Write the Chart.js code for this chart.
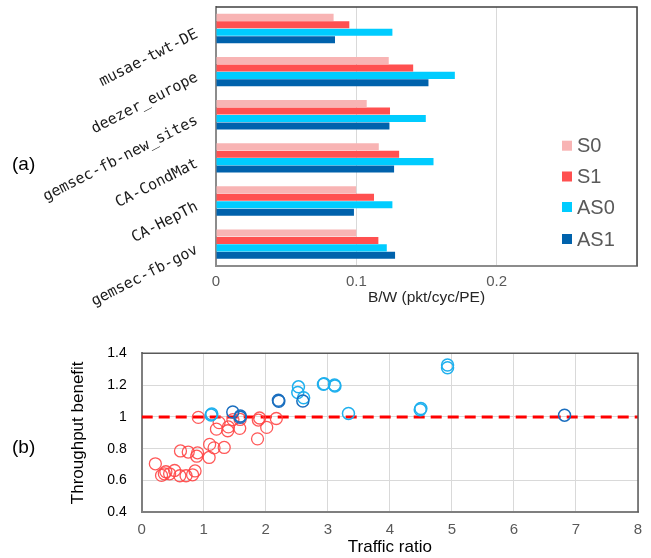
<!DOCTYPE html>
<html><head><meta charset="utf-8">
<script src="https://cdn.jsdelivr.net/npm/chart.js@4.4.1/dist/chart.umd.min.js"></script>
<style>
html,body{margin:0;padding:0;background:#fff;}
body{width:651px;height:558px;position:relative;overflow:hidden;}
canvas{position:absolute;left:0;}
#ca{top:0;}
#cb{top:320px;}
.lab{position:absolute;font-family:"Liberation Sans",Arial,sans-serif;font-size:19px;color:#000;line-height:1;}
</style></head>
<body>
<canvas id="ca" width="651" height="320" style="width:651px;height:320px"></canvas>
<canvas id="cb" width="651" height="238" style="width:651px;height:238px"></canvas>
<div class="lab" style="left:12px;top:154px">(a)</div>
<div class="lab" style="left:12px;top:437px">(b)</div>
<script>
// ---------- (a) bandwidth per dataset ----------
const categories = ['musae-twt-DE','deezer_europe','gemsec-fb-new_sites','CA-CondMat','CA-HepTh','gemsec-fb-gov'];
const seriesNames = ['S0','S1','AS0','AS1'];
const S0  = [0.0838, 0.1231, 0.1074, 0.1160, 0.0998, 0.1000];
const S1  = [0.0950, 0.1405, 0.1240, 0.1305, 0.1126, 0.1157];
const AS0 = [0.1257, 0.1702, 0.1495, 0.1550, 0.1257, 0.1217];
const AS1 = [0.0848, 0.1514, 0.1236, 0.1269, 0.0983, 0.1276];
const bwTickLabels = ['0','0.1','0.2'];

// ---------- (b) throughput benefit vs traffic ratio ----------
const redX = [0.22,0.32,0.365,0.39,0.45,0.53,0.615,0.625,0.715,0.75,0.82,0.86,0.887,0.90,0.913,1.087,1.095,1.166,1.205,1.248,1.33,1.387,1.397,1.47,1.58,1.586,1.867,1.88,1.90,2.015,2.17];
const redY = [0.705,0.632,0.642,0.655,0.642,0.663,0.630,0.786,0.630,0.779,0.636,0.660,0.753,0.774,0.997,0.745,0.827,0.805,0.923,0.964,0.808,0.913,0.937,0.983,0.928,0.984,0.862,0.980,0.993,0.934,0.990];
const lightX = [1.118,1.13,2.527,2.516,2.61,2.93,2.94,3.108,3.115,3.333,4.49,4.50,4.93,4.93];
const lightY = [1.012,1.018,1.189,1.153,1.120,1.205,1.208,1.200,1.195,1.022,1.045,1.053,1.326,1.309];
const darkX = [1.468,1.586,1.59,2.204,2.21,2.597,6.816];
const darkY = [1.031,0.998,1.006,1.105,1.098,1.100,1.011];
const refX = [0, 8];
const refY = [1, 1];
const benefitTickLabels = ['0.4','0.6','0.8','1','1.2','1.4'];

const SANS = '"Liberation Sans", Arial, sans-serif';
const colors = ['#F8B4B4','#FF5050','#00CCFF','#0062AC'];

const frameA = {
  id:'frameA',
  afterDraw(chart){
    const {ctx, chartArea:a} = chart;
    ctx.save();
    ctx.strokeStyle = '#404040'; ctx.lineWidth = 1.5;
    ctx.beginPath();
    ctx.moveTo(a.left, a.top); ctx.lineTo(a.right, a.top); ctx.lineTo(a.right, a.bottom);
    ctx.stroke();
    // legend
    ctx.font = '20px ' + SANS;
    ctx.textBaseline = 'middle';
    ctx.textAlign = 'left';
    const ys = [145.7, 176.5, 207, 239];
    chart.data.datasets.forEach((ds, i) => {
      ctx.fillStyle = ds.backgroundColor;
      ctx.fillRect(562, ys[i] - 5, 10, 10);
      ctx.fillStyle = '#595959';
      ctx.fillText(ds.label, 577, ys[i] + 1);
    });
    ctx.restore();
  }
};

new Chart(document.getElementById('ca'), {
  type: 'bar',
  data: {
    labels: categories,
    datasets: [S0, S1, AS0, AS1].map((d, i) => ({
      label: seriesNames[i], data: d, backgroundColor: colors[i],
      categoryPercentage: 0.69, barPercentage: 0.95
    }))
  },
  options: {
    indexAxis: 'y', responsive: false, animation: false,
    layout: { padding: { top: 7, right: 14, left: 0, bottom: 0 } },
    plugins: { legend: { display: false }, tooltip: { enabled: false } },
    scales: {
      x: {
        min: 0, max: 0.3,
        ticks: { stepSize: 0.1, color: '#595959', font: { family: SANS, size: 15 }, padding: 7,
          callback: (v) => { const k = Math.round(v * 10); return k < bwTickLabels.length ? bwTickLabels[k] : ''; } },
        grid: { color: '#d9d9d9', drawTicks: false, lineWidth: 1 },
        border: { color: '#8c8c8c', width: 2 },
        title: { display: true, text: 'B/W (pkt/cyc/PE)', color: '#262626', font: { family: SANS, size: 15.5 }, padding: { top: 0, bottom: 13 } },
        afterFit: (s) => { s.height = 320 - 265.7; s.paddingLeft = 0; s.paddingRight = 0; }
      },
      y: {
        ticks: { color: '#1a1a1a', font: { family: '"DejaVu Sans Mono", monospace', size: 15 }, minRotation: 27, maxRotation: 27, padding: 19, labelOffset: 5, autoSkip: false },
        grid: { display: false, drawTicks: false },
        border: { color: '#8c8c8c', width: 2 },
        afterFit: (s) => { s.width = 216; s.paddingTop = 0; s.paddingBottom = 0; }
      }
    }
  },
  plugins: [frameA]
});

const frameB = {
  id:'frameB',
  afterDraw(chart){
    const {ctx, chartArea:a} = chart;
    ctx.save();
    ctx.strokeStyle = '#595959'; ctx.lineWidth = 1.5;
    ctx.beginPath();
    ctx.moveTo(a.left, a.top); ctx.lineTo(a.right, a.top); ctx.lineTo(a.right, a.bottom);
    ctx.stroke();
    ctx.restore();
  }
};

const pts = (xs, ys) => xs.map((x, i) => ({ x, y: ys[i] }));

new Chart(document.getElementById('cb'), {
  type: 'scatter',
  data: {
    datasets: [
      { label: 'ref', type: 'line', data: pts(refX, refY), borderColor: '#FF0000', borderWidth: 3, borderDash: [11, 6], pointRadius: 0, fill: false, order: 3 },
      { label: 'red', data: pts(redX, redY), pointRadius: 6, pointBorderWidth: 1.3, borderColor: 'rgba(255,70,70,0.9)', backgroundColor: 'transparent', order: 2 },
      { label: 'light', data: pts(lightX, lightY), pointRadius: 6, pointBorderWidth: 1.5, borderColor: '#1FB0EE', backgroundColor: 'transparent', order: 1 },
      { label: 'dark', data: pts(darkX, darkY), pointRadius: 6, pointBorderWidth: 1.5, borderColor: '#1A6EBF', backgroundColor: 'transparent', order: 0 }
    ]
  },
  options: {
    responsive: false, animation: false,
    layout: { padding: { top: 33.3, right: 13, left: 0, bottom: 0 } },
    plugins: { legend: { display: false }, tooltip: { enabled: false } },
    scales: {
      x: {
        type: 'linear', min: 0, max: 8,
        ticks: { stepSize: 1, color: '#595959', font: { family: SANS, size: 15 }, padding: 9 },
        grid: { color: '#d9d9d9', drawTicks: false },
        border: { color: '#7f7f7f', width: 2 },
        title: { display: true, text: 'Traffic ratio', color: '#000', font: { family: SANS, size: 17 }, padding: { top: 0, bottom: 0 } },
        afterFit: (s) => { s.height = 238 - 192.3; s.paddingLeft = 0; s.paddingRight = 0; }
      },
      y: {
        min: 0.4, max: 1.4,
        ticks: { stepSize: 0.2, color: '#000', font: { family: SANS, size: 14 }, padding: 15,
          callback: (v) => { const k = Math.round((v - 0.4) / 0.2); return benefitTickLabels[k] ?? ''; } },
        grid: { color: '#d9d9d9', drawTicks: false },
        border: { color: '#7f7f7f', width: 2 },
        title: { display: true, text: 'Throughput benefit', color: '#000', font: { family: SANS, size: 17 }, padding: { top: 68, bottom: 0 } },
        afterFit: (s) => { s.width = 141.7; s.paddingTop = 0; s.paddingBottom = 0; }
      }
    }
  },
  plugins: [frameB]
});
</script>
</body></html>
